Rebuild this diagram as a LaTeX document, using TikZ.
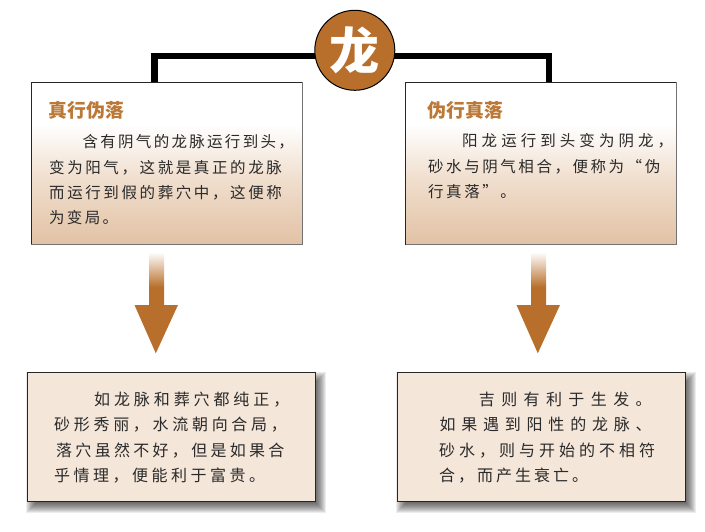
\documentclass[tikz,border=0pt]{standalone}
\usepackage{fontspec}
\newfontfamily\cjk{Noto Sans CJK SC}
\definecolor{ochre}{HTML}{B86F2B}
\definecolor{titlebrown}{HTML}{BC7836}
\definecolor{tanlow}{HTML}{E2C2A5}
\definecolor{tanmid}{HTML}{F0DECD}
\definecolor{paper}{HTML}{F5E6DA}
\definecolor{ink}{HTML}{2A2A2A}
\pgfdeclarelayer{under}
\pgfsetlayers{under,main}
\pgfdeclareverticalshading{boxfade}{100bp}{color(0bp)=(tanlow);color(25bp)=(tanlow);color(45bp)=(tanmid);color(62bp)=(white);color(100bp)=(white)}
\pgfdeclareverticalshading{arrowfade}{100bp}{color(0bp)=(ochre);color(57bp)=(ochre);color(74bp)=(white);color(100bp)=(white)}
\newdimen\sprgap
\def\prow#1#2#3{\hbox{\kern#1pt\sprgap=\dimexpr#2pt-1em\relax\sprchar#3\relax}}
\def\sprchar#1{#1\futurelet\sprnext\sprtest}
\def\sprtest{\ifx\sprnext\relax\else\kern\sprgap\expandafter\sprchar\fi}
\tikzset{
  topbox/.style={draw=black!85,line width=0.7pt,inner sep=0pt,outer sep=0pt,shade,shading=boxfade,minimum width=271pt,minimum height=162pt},
  lowbox/.style={draw=black!85,line width=0.8pt,fill=paper,inner sep=0pt,outer sep=0pt,minimum width=288pt,minimum height=128.5pt},
  hubdisc/.style={circle,draw=black,line width=1pt,fill=ochre,text=white,inner sep=0pt,minimum size=80pt,font={\cjk\bfseries\fontsize{50}{50}\selectfont}},
  linkline/.style={line width=6.2pt,draw=black,line join=miter},
  titletext/.style={anchor=base west,inner sep=0pt,text=titlebrown,font={\cjk\bfseries\fontsize{18.8}{22}\selectfont}},
  uptext/.style={anchor=base west,inner sep=0pt,text=ink,font={\cjk\fontsize{15.5}{25.5}\selectfont}},
  lowtext/.style={anchor=base west,inner sep=0pt,text=ink,font={\cjk\fontsize{16}{25.3}\selectfont}},
  fadearrow/.style={shade,shading=arrowfade,draw=none}
}
\begin{document}
\begin{tikzpicture}[x=1pt,y=-1pt]
\useasboundingbox (0,0) rectangle (705,532);
% boxes
\node[topbox] (tl) at (166.8,163.3) {};
\node[topbox] (tr) at (541.2,163.3) {};
\draw[black!55,line width=1pt] (tl.north east) -- (tl.south east) -- (tl.south west);
\draw[black!55,line width=1pt] (tr.north east) -- (tr.south east) -- (tr.south west);
\begin{pgfonlayer}{under}
\foreach \cx in {171.3,541.3}{
  \foreach \r in {7,6,...,-3}{
    \fill[black,opacity=0.075] (\cx-144+6-\r,372.5+6-\r) rectangle (\cx+144+4+\r,501+5+\r);
  }
}
\end{pgfonlayer}
\node[lowbox] (bl) at (171.3,436.8) {};
\node[lowbox] (br) at (541.3,436.8) {};
% hub and links
\node[hubdisc] (hub) at (354.8,50.3) {龙};
\begin{pgfonlayer}{under}
\draw[linkline] ([xshift=-12.3pt]tl.north) |- ([yshift=-6pt]hub.center) -| ([xshift=7.8pt]tr.north);
\end{pgfonlayer}
% arrows
\coordinate (la) at (156.5,250);
\coordinate (ra) at (538.5,250);
\foreach \c in {la,ra}{
  \path[fadearrow] ([shift={(-7.5,0)}]\c) -- ([shift={(7.5,0)}]\c) -- ([shift={(7.5,55)}]\c) -- ([shift={(21.5,55)}]\c) -- ([shift={(-0.7,103.3)}]\c) -- ([shift={(-22,55)}]\c) -- ([shift={(-7.5,55)}]\c) -- cycle;
}
% titles
\node[titletext] (tlt) at (48.5,118) {真行伪落};
\node[titletext] (trt) at (427.5,118) {伪行真落};
% texts
\node[uptext] (tlb) at (49,224) {\vbox{%
  \prow{33.4}{17.8}{含有阴气的龙脉运行到头，}
  \prow{0}{18.1}{变为阳气，这就是真正的龙脉}
  \prow{0}{18.1}{而运行到假的葬穴中，这便称}
  \prow{0}{17.8}{为变局。}}};
\node[uptext] (trb) at (428,197.8) {\vbox{%
  \prow{34}{19.55}{阳龙运行到头变为阴龙，}
  \prow{0}{18.05}{砂水与阴气相合，便称为“伪}
  \prow{0}{18.05}{行真落”。}}};
\node[lowtext] (blb) at (54,481.3) {\vbox{%
  \prow{40}{19.9}{如龙脉和葬穴都纯正，}
  \prow{0}{19.7}{砂形秀丽，水流朝向合局，}
  \prow{2}{19.3}{落穴虽然不好，但是如果合}
  \prow{0}{19.5}{乎情理，便能利于富贵。}}};
\node[lowtext] (brb) at (439,481.3) {\vbox{%
  \prow{39.7}{22.4}{吉则有利于生发。}
  \prow{0.3}{21.8}{如果遇到阳性的龙脉、}
  \prow{0}{20}{砂水，则与开始的不相符}
  \prow{0}{19}{合，而产生衰亡。}}};
\end{tikzpicture}
\end{document}
